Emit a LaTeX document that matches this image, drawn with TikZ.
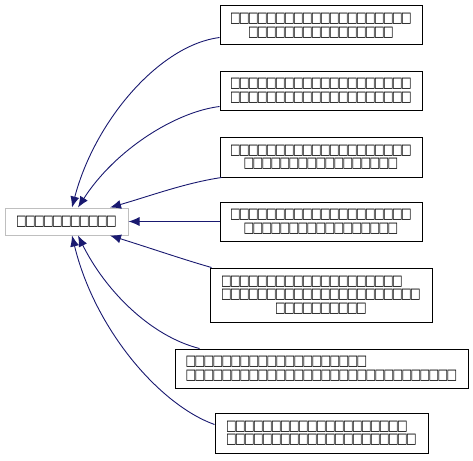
\documentclass[tikz,border=0pt]{standalone}
\usepackage{fontspec}
\usepackage{graphicx}
\newfontfamily\symf{DejaVu Sans}
\usetikzlibrary{arrows.meta,calc}
\definecolor{edgeblue}{HTML}{191970}
\definecolor{mainborder}{HTML}{BFBFBF}
\newcommand\tfc{\makebox[9pt]{\scalebox{1}[1.3]{\fontsize{11.2}{11.2}\symf □}}}
\newcommand\tfr[1]{\foreach \i in {1,...,#1}{\tfc}}
\tikzset{
  box/.style={draw=black, line width=1pt, fill=white, inner sep=0pt, align=center,
    font=\fontsize{9}{13.5}\selectfont},
  mainbox/.style={box, draw=mainborder},
  edge/.style={draw=edgeblue, line width=0.9pt, -{Latex[length=11pt,width=9pt]}}
}
\begin{document}
\begin{tikzpicture}[x=1pt,y=-1pt]
\useasboundingbox (0,0) rectangle (473,460);
\node[mainbox, minimum width=123pt, minimum height=27pt] (m) at (66.5,221.5) {\tfr{11}};
\node[box, minimum width=202pt, minimum height=39pt] (b1) at (321,25.5) {\tfr{20}\\\tfr{16}};
\node[box, minimum width=202pt, minimum height=39pt] (b2) at (321,90.5) {\tfr{20}\\\tfr{20}};
\node[box, minimum width=202pt, minimum height=40pt] (b3) at (321,157) {\tfr{20}\\\tfr{17}};
\node[box, minimum width=202pt, minimum height=39pt] (b4) at (321,221.5) {\tfr{20}\\\tfr{17}};
\node[box, minimum width=222pt, minimum height=54pt] (b5) at (321,295) {\tfr{20}\phantom{\tfr{2}}\\\tfr{22}\\\tfr{10}};
\node[box, minimum width=293pt, minimum height=39pt] (b6) at (321.5,368.5) {\tfr{20}\phantom{\tfr{10}}\\\tfr{30}};
\node[box, minimum width=213pt, minimum height=40pt] (b7) at (321.5,433) {\tfr{20}\phantom{\tfr{1}}\\\tfr{21}};
\coordinate (t1) at ($(m.north)+(5.5,0)$);
\coordinate (t2) at ($(m.north)+(11.5,0)$);
\coordinate (t3) at ($(m.north)+(43.5,0)$);
\coordinate (t5) at ($(m.south)+(43.5,0)$);
\coordinate (t6) at ($(m.south)+(11.5,0)$);
\coordinate (t7) at ($(m.south)+(5.5,0)$);
\coordinate (s1) at ($(b1.south west)+(0,-8)$);
\coordinate (s2) at ($(b2.south west)+(0,-4)$);
\coordinate (s3) at ($(b3.south west)+(2,0)$);
\coordinate (s5) at ($(b5.north west)+(2,0)$);
\coordinate (s6) at ($(b6.north west)+(25,0)$);
\coordinate (s7) at ($(b7.north west)+(0,12)$);
\draw[edge] (s1) .. controls (160,45) and (95,120) .. (t1);
\draw[edge] (s2) .. controls (175,112) and (115,150) .. (t2);
\draw[edge] (s3) .. controls (185,183) and (150,196) .. (t3);
\draw[edge] (b4.west) -- (m.east);
\draw[edge] (s5) .. controls (185,260) and (150,248) .. (t5);
\draw[edge] (s6) .. controls (150,336) and (105,290) .. (t6);
\draw[edge] (s7) .. controls (160,405) and (95,330) .. (t7);
\end{tikzpicture}
\end{document}
